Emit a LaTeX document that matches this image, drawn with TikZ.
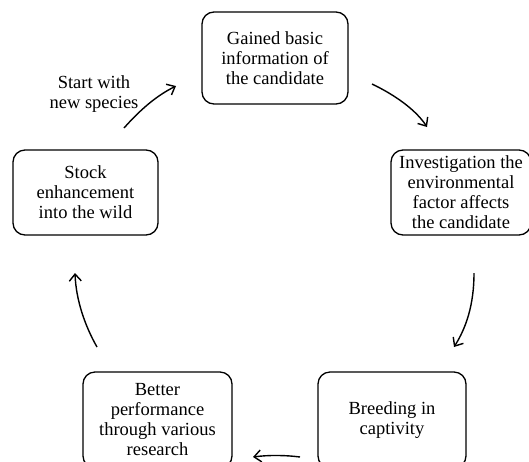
\documentclass[tikz,border=0pt]{standalone}
\usepackage{fontspec}
\setmainfont{Liberation Serif}
\usetikzlibrary{arrows.meta}
\begin{document}
\begin{tikzpicture}[x=1pt,y=-1pt,
  stage/.style={draw, line width=1.3pt, rounded corners=12pt, align=center,
    font=\fontsize{18.5}{20}\selectfont, inner sep=0pt},
  flow/.style={line width=1.4pt, -{Straight Barb[length=7pt,width=12pt,line width=1.4pt]}},
  lbl/.style={align=center, font=\fontsize{18.5}{20}\selectfont, inner sep=0pt}]
\useasboundingbox (0,0) rectangle (529,461);
\clip (0,0) rectangle (529,461);
\node[stage, minimum width=146pt, minimum height=92pt] (gain) at (275,58)
  {Gained basic\\information of\\the candidate};
\node[stage, minimum width=140pt, minimum height=85pt] (inv) at (461,192.5)
  {Investigation the\\environmental\\factor affects\\the candidate};
\node[stage, minimum width=145pt, minimum height=85pt] (stock) at (85.5,192.5)
  {Stock\\enhancement\\into the wild};
\node[stage, minimum width=149pt, minimum height=96pt] (better) at (157.5,420)
  {Better\\performance\\through various\\research};
\node[stage, minimum width=148pt, minimum height=96pt] (breed) at (392,420)
  {Breeding in\\captivity};
\node[lbl] (start) at (94,94) {Start with\\new species};

\coordinate (a1s) at (372,84);  \coordinate (a1e) at (427,127);
\coordinate (a2s) at (474,273); \coordinate (a2e) at (454,347);
\coordinate (a3s) at (300,457); \coordinate (a3e) at (253,457);
\coordinate (a4s) at (97,347);  \coordinate (a4e) at (75,273);
\coordinate (a5s) at (124,128); \coordinate (a5e) at (176,86);

\draw[flow] (a1s) .. controls (395,95) and (416,110) .. (a1e);
\draw[flow] (a2s) .. controls (474,305) and (466,328) .. (a2e);
\draw[flow] (a3s) .. controls (285,455) and (268,455) .. (a3e);
\draw[flow] (a4s) .. controls (85,326) and (76,300) .. (a4e);
\draw[flow] (a5s) .. controls (140,110) and (156,96) .. (a5e);
\end{tikzpicture}
\end{document}
